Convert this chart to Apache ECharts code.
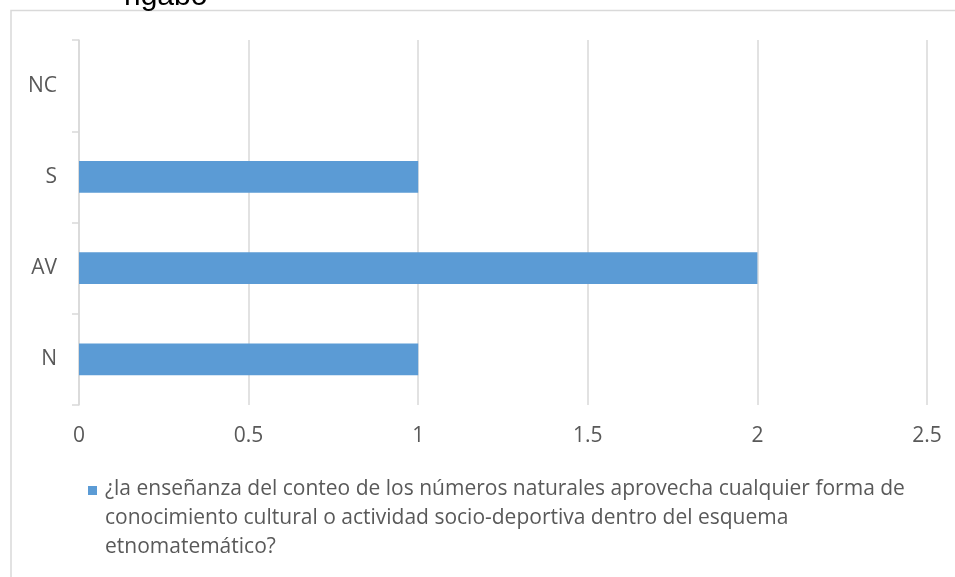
<!DOCTYPE html>
<html>
<head>
<meta charset="utf-8">
<style>
  html, body { margin: 0; padding: 0; background: #ffffff; }
  #chart { width: 955px; height: 577px; }
</style>
<script src="https://cdn.jsdelivr.net/npm/echarts@6/dist/echarts.min.js"></script>
</head>
<body>
<div id="chart"></div>
<script>
// Response categories, listed bottom to top
const categories = ['N', 'AV', 'S', 'NC'];
// Number of answers per category
const counts = [1, 2, 1, 0];
// Value axis ticks
const xTicks = [0, 0.5, 1, 1.5, 2, 2.5];
const seriesName = '¿la enseñanza del conteo de los números naturales aprovecha cualquier forma de conocimiento cultural o actividad socio-deportiva dentro del esquema etnomatemático?';
const legendLines = [
  '¿la enseñanza del conteo de los números naturales aprovecha cualquier forma de',
  'conocimiento cultural o actividad socio-deportiva dentro del esquema',
  'etnomatemático?'
];
const headingFragment = 'rigabo';

const barColor = '#5b9bd5';
const gridGray = '#d9d9d9';
const labelGray = '#595959';
const font = '"Open Sans", "DejaVu Sans", sans-serif';

const chart = echarts.init(document.getElementById('chart'), null, { renderer: 'canvas' });

chart.setOption({
  animation: false,
  backgroundColor: '#ffffff',
  grid: { left: 79, right: 28, top: 40, bottom: 172, containLabel: false },
  xAxis: {
    type: 'value',
    min: xTicks[0],
    max: xTicks[xTicks.length - 1],
    interval: xTicks[1] - xTicks[0],
    axisLine: { show: false },
    axisTick: { show: false },
    axisLabel: {
      color: labelGray, fontFamily: font, fontSize: 21, margin: 21,
      formatter: v => String(v)
    },
    splitLine: { show: true, lineStyle: { color: gridGray, width: 1.5 } }
  },
  yAxis: {
    type: 'category',
    data: categories,
    axisLine: { show: true, lineStyle: { color: gridGray, width: 1.5 } },
    axisTick: { show: true, length: 7, lineStyle: { color: gridGray, width: 1.5 } },
    axisLabel: { color: labelGray, fontFamily: font, fontSize: 21, margin: 22 },
    splitLine: { show: false }
  },
  series: [{
    name: seriesName,
    type: 'bar',
    data: counts,
    barWidth: '35%',
    itemStyle: { color: barColor },
    emphasis: { disabled: true }
  }],
  graphic: [
    {
      type: 'rect',
      silent: true,
      z: -1,
      shape: { x: 11, y: 10.5, width: 1000, height: 700 },
      style: { fill: 'none', stroke: gridGray, lineWidth: 1.5 }
    },
    {
      type: 'text',
      silent: true,
      x: 124, y: 12,
      style: {
        text: headingFragment,
        font: '30px "Liberation Sans", Arial, sans-serif',
        fill: '#000000',
        verticalAlign: 'bottom'
      }
    },
    {
      type: 'rect',
      silent: true,
      shape: { x: 88, y: 486, width: 9, height: 9 },
      style: { fill: barColor }
    },
    {
      type: 'text',
      silent: true,
      x: 105, y: 475,
      style: {
        text: legendLines.join('\n'),
        font: '21px ' + font,
        lineHeight: 29,
        fill: labelGray,
        verticalAlign: 'top'
      }
    }
  ]
});
</script>
</body>
</html>
